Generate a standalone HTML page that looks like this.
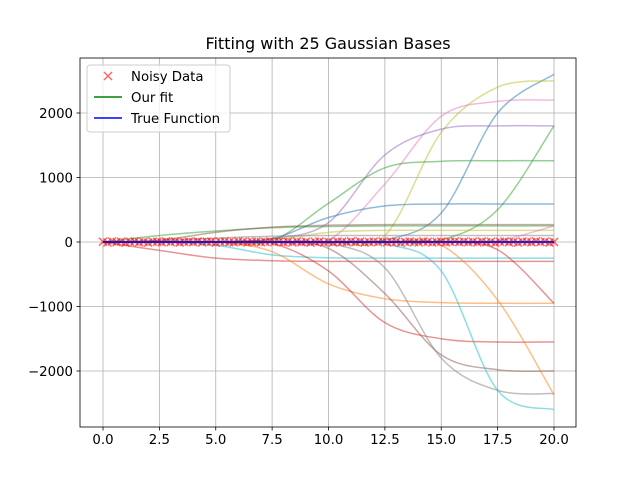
<!DOCTYPE html>
<html><head><meta charset="utf-8"><style>
body{margin:0;background:#fff;font-family:"Liberation Sans","DejaVu Sans",sans-serif;}
svg text{font-family:"DejaVu Sans","Liberation Sans",sans-serif;}
</style></head><body>
<svg id="chart" width="640" height="480" xmlns="http://www.w3.org/2000/svg">
<rect width="640" height="480" fill="#fff"/>
<g id="grid"></g>
<g id="series"></g>
<g id="axes"></g>
<text x="328" y="49" text-anchor="middle" font-size="16">Fitting with 25 Gaussian Bases</text>
<g>
<rect x="87" y="65" width="143" height="67" rx="3" fill="#fff" fill-opacity="0.8" stroke="#ccc"/>
<g><path d="M104 72 L112 80 M112 72 L104 80" stroke="#ff0000" stroke-opacity="0.6" stroke-width="1.5"/><text x="131" y="81" font-size="13.3">Noisy Data</text></g>
<g><line x1="94" x2="122" y1="97" y2="97" stroke="green" stroke-width="1.5"/><text x="131" y="102" font-size="13.3">Our fit</text></g>
<g><line x1="94" x2="122" y1="118" y2="118" stroke="blue" stroke-width="1.5"/><text x="131" y="123" font-size="13.3">True Function</text></g>
</g>
</svg>
<script>
const xTicks=[0,2.5,5,7.5,10,12.5,15,17.5,20];
const xTickLabels=["0.0","2.5","5.0","7.5","10.0","12.5","15.0","17.5","20.0"];
const yTicks=[-2000,-1000,0,1000,2000];
const yTickLabels=["−2000","−1000","0","1000","2000"];
const basisX=[0,2.5,5,7.5,10,12.5,15,17.5,20];
const basisColors=["#1f77b4","#bcbd22","#e377c2","#9467bd","#2ca02c","#2ca02c","#1f77b4","#2ca02c","#8c564b","#bcbd22","#7f7f7f","#e377c2","#d62728","#17becf","#ff7f0e","#d62728","#8c564b","#7f7f7f","#17becf","#ff7f0e","#d62728"];
const basisValues=[
[0,0,0,0,0,30,450,2000,2600],
[0,0,0,0,0,100,1700,2400,2500],
[0,0,0,0,30,900,1950,2180,2200],
[0,0,0,50,300,1350,1750,1800,1800],
[0,0,0,0,0,0,30,500,1800],
[0,0,0,20,600,1150,1250,1260,1260],
[0,0,0,50,380,560,590,590,590],
[0,100,170,220,240,250,250,250,250],
[0,30,150,230,260,270,270,270,270],
[0,0,0,30,150,180,180,180,180],
[0,20,60,90,100,100,100,100,100],
[0,0,0,0,0,0,0,20,250],
[0,-130,-250,-290,-300,-300,-300,-300,-300],
[0,0,-50,-200,-245,-250,-250,-250,-250],
[0,0,0,-150,-650,-880,-940,-950,-950],
[0,0,0,-20,-450,-1250,-1500,-1550,-1550],
[0,0,0,0,-100,-800,-1750,-1980,-2000],
[0,0,0,0,-20,-400,-1800,-2300,-2350],
[0,0,0,0,0,-30,-450,-2300,-2600],
[0,0,0,0,0,0,-50,-900,-2370],
[0,0,0,0,0,0,0,-120,-950]];
const dataX=[0,0.2,0.4,0.6,0.8,1,1.2,1.4,1.6,1.8,2,2.2,2.4,2.6,2.8,3,3.2,3.4,3.6,3.8,4,4.2,4.4,4.6,4.8,5,5.2,5.4,5.6,5.8,6,6.2,6.4,6.6,6.8,7,7.2,7.4,7.6,7.8,8,8.2,8.4,8.6,8.8,9,9.2,9.4,9.6,9.8,10,10.2,10.4,10.6,10.8,11,11.2,11.4,11.6,11.8,12,12.2,12.4,12.6,12.8,13,13.2,13.4,13.6,13.8,14,14.2,14.4,14.6,14.8,15,15.2,15.4,15.6,15.8,16,16.2,16.4,16.6,16.8,17,17.2,17.4,17.6,17.8,18,18.2,18.4,18.6,18.8,19,19.2,19.4,19.6,19.8,20];
const dataY=[5,-8,10,-3,6,-12,4,9,-6,2,-10,7,3,-5,11,-2,8,-9,1,6,-4,10,-7,3,5,-11,2,8,-3,-6,9,4,-8,1,7,-5,3,10,-2,6,-4,5,-8,10,-3,6,-12,4,9,-6,2,-10,7,3,-5,11,-2,8,-9,1,6,-4,10,-7,3,5,-11,2,8,-3,-6,9,4,-8,1,7,-5,3,10,-2,6,-4,5,-8,10,-3,6,-12,4,9,-6,2,-10,7,3,-5,11,-2,8,-9,1];
const fitX=[0,5,10,15,20];
const fitY=[0,2,-1,1,0];
const trueY=[0,0,0,0,0];

const L=80,R=576,T=58,B=427,X0=103,X1=554;
const sx=v=>X0+(v-0)*(X1-X0)/20;
const sy=v=>242-v*0.0645;
const NS="http://www.w3.org/2000/svg";
function mk(tag,attrs,parent){const e=document.createElementNS(NS,tag);for(const k in attrs)e.setAttribute(k,attrs[k]);parent.appendChild(e);return e;}
const grid=document.getElementById('grid'),axes=document.getElementById('axes'),series=document.getElementById('series');
xTicks.forEach((t,i)=>{const x=sx(t);
 const g=mk('line',{x1:x,x2:x,y1:T,y2:B,stroke:'#b0b0b0','stroke-width':0.8},grid);
 
 mk('line',{x1:x,x2:x,y1:B,y2:B+3.5,stroke:'#000','stroke-width':0.8},axes);
 const tx=mk('text',{x:x,y:B+17,'text-anchor':'middle','font-size':'13.3'},axes);tx.textContent=xTickLabels[i];
 });
yTicks.forEach((t,i)=>{const y=sy(t);
 const g=mk('line',{x1:L,x2:R,y1:y,y2:y,stroke:'#b0b0b0','stroke-width':0.8},grid);
 
 mk('line',{x1:L-3.5,x2:L,y1:y,y2:y,stroke:'#000','stroke-width':0.8},axes);
 const tx=mk('text',{x:L-7,y:y+5,'text-anchor':'end','font-size':'13.3'},axes);tx.textContent=yTickLabels[i];
 });
const fr=mk('rect',{x:L,y:T,width:R-L,height:B-T,fill:'none',stroke:'#000','stroke-width':0.8},axes);

function smoothPath(xs,ys){const p=xs.map((x,i)=>[sx(x),sy(ys[i])]);let d='M'+p[0][0]+' '+p[0][1];
 for(let i=0;i<p.length-1;i++){const p0=p[Math.max(0,i-1)],p1=p[i],p2=p[i+1],p3=p[Math.min(p.length-1,i+2)];
  const c1=[p1[0]+(p2[0]-p0[0])/6,p1[1]+(p2[1]-p0[1])/6],c2=[p2[0]-(p3[0]-p1[0])/6,p2[1]-(p3[1]-p1[1])/6];
  d+=` C${c1[0]} ${c1[1]} ${c2[0]} ${c2[1]} ${p2[0]} ${p2[1]}`;}return d;}
basisValues.forEach((vals,i)=>{const p=mk('path',{d:smoothPath(basisX,vals),fill:'none',stroke:basisColors[i],'stroke-opacity':0.5,'stroke-width':1.5},series);
 });
dataX.forEach((x,i)=>{const cx=sx(x),cy=sy(dataY[i]);
 const m=mk('path',{d:`M${cx-4} ${cy-4} L${cx+4} ${cy+4} M${cx+4} ${cy-4} L${cx-4} ${cy+4}`,stroke:'#ff0000','stroke-opacity':0.6,'stroke-width':1.5},series);
 });
const f=mk('path',{d:smoothPath(fitX,fitY),fill:'none',stroke:'green','stroke-width':1.5},series);

const tl=mk('path',{d:smoothPath(fitX,trueY),fill:'none',stroke:'blue','stroke-width':1.5},series);

</script>
</body></html>
